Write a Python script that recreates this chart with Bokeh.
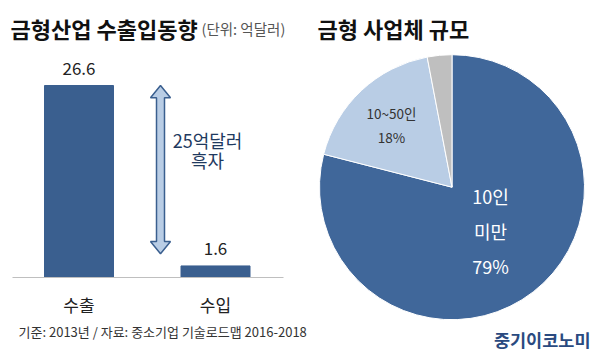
import math
from bokeh.plotting import figure
from bokeh.models import Range1d, ColumnDataSource
from bokeh.core.properties import value
from bokeh.embed import file_html
from bokeh.resources import INLINE

# ---- data ----
trade_categories = ["수출", "수입"]
trade_values = [26.6, 1.6]          # 억달러
surplus_label = ["25억달러", "흑자"]

size_categories = ["10인 미만", "10~50인", "기타"]
size_shares = [79, 18, 3]           # %

FONT = value("Noto Sans CJK KR")

p = figure(width=600, height=359, x_range=Range1d(0, 600), y_range=Range1d(359, 0),
           output_backend="svg", toolbar_location=None, min_border=0)
p.axis.visible = False
p.grid.visible = False
p.outline_line_color = None
p.background_fill_color = "white"
# value scale: 0 at y=277, 26.6 at y=85
p.extra_y_ranges = {"val": Range1d((277 - 359) / 7.218, 277 / 7.218)}

# ---- left: bar chart ----
bar_x = [78.5, 215]
bar_color = "#3a5f8f"
src = ColumnDataSource(dict(x=bar_x, top=trade_values, cat=trade_categories,
                            lbl=[f"{v:.1f}" for v in trade_values]))
p.vbar(x="x", top="top", bottom=0, width=69, source=src, y_range_name="val",
       fill_color=bar_color, line_color=bar_color)
p.segment(x0=12, x1=283, y0=0, y1=0, y_range_name="val", line_color="#bfbfbf", line_width=1)
p.text(x="x", y="top", text="lbl", source=src, y_range_name="val", y_offset=-11,
       text_align="center", text_baseline="bottom", text_font=FONT,
       text_font_size="17px", text_color="#222222")
p.text(x=bar_x, y=[304, 304], text=trade_categories, text_align="center",
       text_baseline="middle", text_font=FONT, text_font_size="17px", text_color="#222222")

# double arrow between export top and import level
ax = 160
top_v = trade_values[0]
bot_v = trade_values[1] + 1.7
head = 1.7
hw, sw = 10, 4
arrow_xs = [ax, ax + hw, ax + sw, ax + sw, ax + hw, ax, ax - hw, ax - sw, ax - sw, ax - hw]
arrow_ys = [top_v, top_v - head, top_v - head, bot_v + head, bot_v + head, bot_v,
            bot_v + head, bot_v + head, top_v - head, top_v - head]
p.patch(x=arrow_xs, y=arrow_ys, y_range_name="val", fill_color="#b9cde5",
        line_color=bar_color, line_width=1.5)
p.text(x=[207, 207], y=[139, 159], text=surplus_label, text_align="center",
       text_baseline="middle", text_font=FONT, text_font_size="18px", text_color="#1f3a60")

# titles
p.text(x=[10], y=[27], text=["금형산업 수출입동향"], text_align="left", text_baseline="middle",
       text_font=FONT, text_font_size="22px", text_font_style="bold", text_color="#111111")
p.text(x=[201], y=[28], text=["(단위: 억달러)"], text_align="left", text_baseline="middle",
       text_font=FONT, text_font_size="14.5px", text_color="#555555")
p.text(x=[317], y=[27], text=["금형 사업체 규모"], text_align="left", text_baseline="middle",
       text_font=FONT, text_font_size="22px", text_font_style="bold", text_color="#111111")

# ---- right: pie ----
cx, cy, r = 451.5, 186.7, 132.5
pie_colors = ["#40679a", "#b9cde5", "#bfbfbf"]
starts, ends = [], []
a = math.pi / 2
for s in size_shares:
    starts.append(a)
    a = a - 2 * math.pi * s / 100
    ends.append(a)
p.wedge(x=cx, y=cy, radius=r, radius_units="screen", start_angle=starts, end_angle=ends,
        direction="clock", fill_color=pie_colors, line_color="white", line_width=1)

p.text(x=[391, 391], y=[112, 136], text=["10~50인", f"{size_shares[1]}%"], text_align="center",
       text_baseline="middle", text_font=FONT, text_font_size="13.5px", text_color="#333333")
p.text(x=[490, 490, 490], y=[195, 230, 265], text=["10인", "미만", f"{size_shares[0]}%"],
       text_align="center", text_baseline="middle", text_font=FONT, text_font_size="18px",
       text_color="white")

# footer and logo
p.text(x=[18], y=[331], text=["기준: 2013년 / 자료: 중소기업 기술로드맵 2016-2018"], text_align="left",
       text_baseline="middle", text_font=FONT, text_font_size="13px", text_color="#333333")
p.text(x=[590], y=[339], text=["중기이코노미"], text_align="right", text_baseline="middle",
       text_font=FONT, text_font_size="17.5px", text_font_style="bold", text_color="#2a4a80")

open("out.html", "w").write(file_html(p, INLINE))
